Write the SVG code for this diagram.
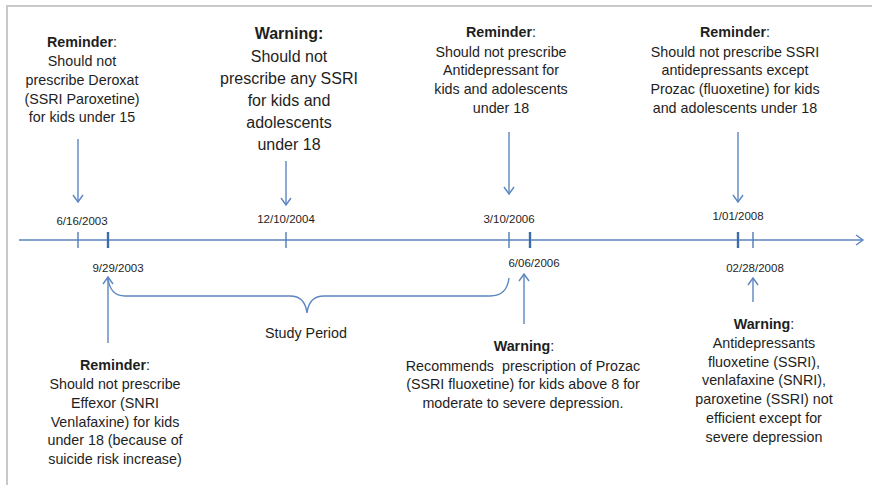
<svg xmlns="http://www.w3.org/2000/svg" width="872" height="485" viewBox="0 0 872 485">
<defs>
<marker id="open" markerWidth="12" markerHeight="12" refX="10" refY="6" orient="auto" markerUnits="userSpaceOnUse">
<path d="M3,1 L10,6 L3,11" fill="none" stroke="#5b86c0" stroke-width="1.4"/>
</marker>
</defs>
<style>
.t{font-family:"Liberation Sans",Arial,sans-serif;font-size:14.3px;fill:#1e1e1e;text-anchor:middle}
.big{font-size:16px}
.d{font-family:"Liberation Sans",Arial,sans-serif;font-size:11.5px;fill:#1e1e1e;text-anchor:middle}
.b{font-weight:bold}
.ln{stroke:#5b86c0;stroke-width:1.4;fill:none}
.tk{stroke:#4f7bb5;stroke-width:1.4}
.tk2{stroke:#3f6ca8;stroke-width:2.4}
</style>
<rect width="872" height="485" fill="#ffffff"/>
<path d="M7,485 V6 H872" fill="none" stroke="#c9c9c9" stroke-width="2"/>

<g id="connectors">
<line class="ln" x1="19" y1="240" x2="863" y2="240" marker-end="url(#open)"/>
<line class="tk" x1="78" y1="232" x2="78" y2="248"/>
<line class="tk2" x1="108" y1="232" x2="108" y2="248"/>
<line class="tk" x1="286" y1="232" x2="286" y2="248"/>
<line class="tk" x1="509" y1="232" x2="509" y2="248"/>
<line class="tk2" x1="530" y1="232" x2="530" y2="248"/>
<line class="tk2" x1="738" y1="232" x2="738" y2="248"/>
<line class="tk" x1="753" y1="232" x2="753" y2="248"/>
<line class="ln" x1="78" y1="139" x2="78" y2="202" marker-end="url(#open)"/>
<line class="ln" x1="286" y1="161" x2="286" y2="205" marker-end="url(#open)"/>
<line class="ln" x1="509" y1="132" x2="509" y2="194" marker-end="url(#open)"/>
<line class="ln" x1="738" y1="132" x2="738" y2="202" marker-end="url(#open)"/>
<line class="ln" x1="108" y1="343" x2="108" y2="277" marker-end="url(#open)"/>
<line class="ln" x1="524" y1="324" x2="524" y2="274" marker-end="url(#open)"/>
<line class="ln" x1="753" y1="302" x2="753" y2="278" marker-end="url(#open)"/>
<path class="ln" d="M108,278 Q110,296 125,296 H290 Q305,296 307,313 Q309,296 324,296 H490 Q507,296 509,278"/>
</g>

<g id="n-2003-06">
<text class="t"><tspan class="b" x="82" y="47">Reminder</tspan><tspan>:</tspan><tspan x="82" y="66">Should not</tspan><tspan x="82" y="85">prescribe Deroxat</tspan><tspan x="82" y="104">(SSRI Paroxetine)</tspan><tspan x="82" y="122">for kids under 15</tspan></text>
<text class="d" x="82" y="225">6/16/2003</text>
</g>

<g id="n-2004-12">
<text class="t big"><tspan class="b" x="289" y="39">Warning:</tspan><tspan x="289" y="62">Should not</tspan><tspan x="289" y="84">prescribe any SSRI</tspan><tspan x="289" y="106">for kids and</tspan><tspan x="289" y="128">adolescents</tspan><tspan x="289" y="150">under 18</tspan></text>
<text class="d" x="286" y="223">12/10/2004</text>
</g>

<g id="n-2006-03">
<text class="t"><tspan class="b" x="501" y="37">Reminder</tspan><tspan>:</tspan><tspan x="501" y="57">Should not prescribe</tspan><tspan x="501" y="75">Antidepressant for</tspan><tspan x="501" y="94">kids and adolescents</tspan><tspan x="501" y="113">under 18</tspan></text>
<text class="d" x="509" y="223">3/10/2006</text>
</g>

<g id="n-2008-01">
<text class="t"><tspan class="b" x="735" y="37">Reminder</tspan><tspan>:</tspan><tspan x="735" y="57">Should not prescribe SSRI</tspan><tspan x="735" y="75">antidepressants except</tspan><tspan x="735" y="94">Prozac (fluoxetine) for kids</tspan><tspan x="735" y="113">and adolescents under 18</tspan></text>
<text class="d" x="738" y="220">1/01/2008</text>
</g>

<g id="n-2003-09">
<text class="d" x="118" y="272">9/29/2003</text>
<text class="t"><tspan class="b" x="115" y="370">Reminder</tspan><tspan>:</tspan><tspan x="115" y="389">Should not prescribe</tspan><tspan x="115" y="408">Effexor (SNRI</tspan><tspan x="115" y="427">Venlafaxine) for kids</tspan><tspan x="115" y="445">under 18 (because of</tspan><tspan x="115" y="464">suicide risk increase)</tspan></text>
</g>

<g id="n-study">
<text class="t" x="306" y="338">Study Period</text>
</g>

<g id="n-2006-06">
<text class="d" x="534" y="267">6/06/2006</text>
<text class="t"><tspan class="b" x="524" y="351">Warning</tspan><tspan>:</tspan><tspan x="523" y="371">Recommends&#160; prescription of Prozac</tspan><tspan x="523" y="389">(SSRI fluoxetine) for kids above 8 for</tspan><tspan x="523" y="408">moderate to severe depression.</tspan></text>
</g>

<g id="n-2008-02">
<text class="d" x="755" y="272">02/28/2008</text>
<text class="t"><tspan class="b" x="764" y="329">Warning</tspan><tspan>:</tspan><tspan x="764" y="348">Antidepressants</tspan><tspan x="764" y="367">fluoxetine (SSRI),</tspan><tspan x="764" y="385">venlafaxine (SNRI),</tspan><tspan x="764" y="404">paroxetine (SSRI) not</tspan><tspan x="764" y="423">efficient except for</tspan><tspan x="764" y="442">severe depression</tspan></text>
</g>
</svg>
